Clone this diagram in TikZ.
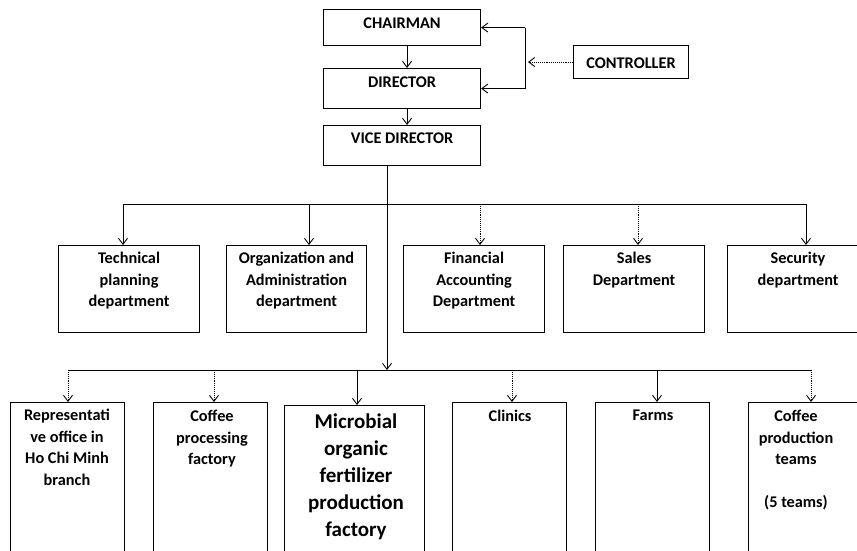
\documentclass[tikz,border=0pt]{standalone}
\usepackage{fontspec}
\setmainfont{Carlito}
\usetikzlibrary{arrows.meta}
\tikzset{
  box/.style={draw, line width=1.1pt, inner sep=0pt, anchor=north west},
  txt/.style={align=center, inner sep=0pt, anchor=north, font=\bfseries\fontsize{16.3}{21.5}\selectfont},
  bigtxt/.style={align=center, inner sep=0pt, anchor=north, font=\bfseries\fontsize{21}{27}\selectfont},
  conn/.style={line width=0.9pt},
  arr/.style={line width=0.9pt, -{Straight Barb[length=6pt,width=9pt]}},
  dotarr/.style={line width=0.9pt, densely dotted, -{Straight Barb[length=6pt,width=9pt]}}
}
\begin{document}
\begin{tikzpicture}[x=1pt,y=-1pt]
\useasboundingbox (0,0) rectangle (857,550);
\clip (0,0) rectangle (857,550);
% top chain
\node[box, minimum width=157, minimum height=36] (chair) at (323,9) {};
\node[txt] at ([yshift=-9]chair.north) {CHAIRMAN};
\node[box, minimum width=157, minimum height=40] (dir) at (323,68) {};
\node[txt] at ([yshift=-9]dir.north) {DIRECTOR};
\node[box, minimum width=157, minimum height=40] (vice) at (323,125) {};
\node[txt] at ([yshift=-8]vice.north) {VICE DIRECTOR};
\node[box, minimum width=115, minimum height=33] (ctrl) at (573,45) {};
\node[txt, anchor=center] at ([yshift=-1]ctrl.center) {CONTROLLER};
% feedback
\coordinate (fbx) at (525,0);
\draw[conn] (chair.east -| fbx) -- (dir.east -| fbx);
\draw[arr] (chair.east -| fbx) -- (chair.east);
\draw[arr] (dir.east -| fbx) -- (dir.east);
\draw[dotarr] (ctrl.west) -- ([xshift=3]ctrl.west -| fbx);
\draw[arr] ([xshift=5]chair.south) -- ([xshift=5]dir.north);
\draw[arr] ([xshift=5]dir.south) -- ([xshift=5]vice.north);
% middle row
\node[box, minimum width=141, minimum height=87] (tech) at (58,245) {};
\node[txt] at ([yshift=-7]tech.north) {Technical\\planning\\department};
\node[box, minimum width=140, minimum height=87] (org) at (226,245) {};
\node[txt] at ([yshift=-7]org.north) {Organization and\\Administration\\department};
\node[box, minimum width=141, minimum height=87] (fin) at (403,245) {};
\node[txt] at ([yshift=-7]fin.north) {Financial\\Accounting\\Department};
\node[box, minimum width=141, minimum height=87] (sales) at (563,245) {};
\node[txt] at ([yshift=-7]sales.north) {Sales\\Department};
\node[box, minimum width=141, minimum height=87] (sec) at (727,245) {};
\node[txt] at ([yshift=-7]sec.north) {Security\\department};
% bus 1
\coordinate (v1) at (387,165);
\coordinate (b1) at (387,204);
\coordinate (b1l) at (123,204);
\coordinate (b1r) at (806,204);
\draw[conn] (v1) -- (b1);
\draw[conn] (b1l) -- (b1r);
\draw[arr] (b1l) -- (b1l |- tech.north);
\draw[arr] (309,204) -- (309,245);
\draw[dotarr] (480,204) -- (480,245);
\draw[dotarr] (638,204) -- (638,245);
\draw[arr] (b1r) -- (b1r |- sec.north);
% bottom row
\node[box, minimum width=114, minimum height=170] (rep) at (10,402) {};
\node[txt] at (67,409) {Representati\\ve office in\\Ho Chi Minh\\branch};
\node[box, minimum width=114, minimum height=170] (proc) at (153,402) {};
\node[txt] at (212,410) {Coffee\\processing\\factory};
\node[box, minimum width=140, minimum height=170] (micro) at (284,405) {};
\node[bigtxt] at (356,414) {Microbial\\organic\\fertilizer\\production\\factory};
\node[box, minimum width=114, minimum height=170] (clin) at (452,402) {};
\node[txt] at (510,410) {Clinics};
\node[box, minimum width=114, minimum height=170] (farm) at (595,402) {};
\node[txt] at (653,410) {Farms};
\node[box, minimum width=130, minimum height=170] (team) at (748,402) {};
\node[txt] at (796,410) {Coffee\\production\\teams\\[\baselineskip](5 teams)};
% bus 2
\coordinate (b2) at (387,370);
\coordinate (b2l) at (68,370);
\coordinate (b2r) at (811,370);
\draw[arr] (b1) -- (b2);
\draw[conn] (b2l) -- (b2r);
\draw[dotarr] (b2l) -- (b2l |- rep.north);
\draw[dotarr] (214,370) -- (214,402);
\draw[arr] (357,370) -- (357,405);
\draw[dotarr] (512,370) -- (512,402);
\draw[arr] (657,370) -- (657,402);
\draw[dotarr] (b2r) -- (b2r |- team.north);
\end{tikzpicture}
\end{document}
